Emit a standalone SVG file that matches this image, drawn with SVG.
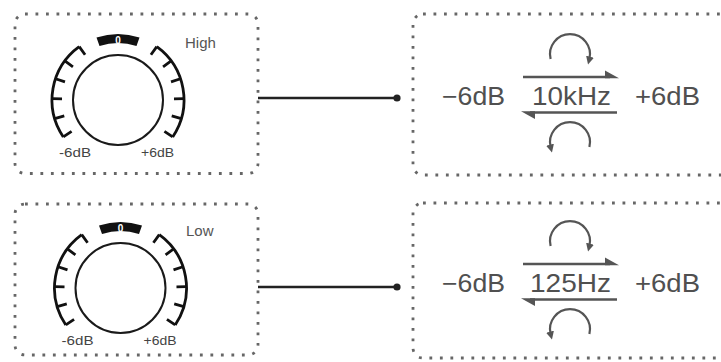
<svg xmlns="http://www.w3.org/2000/svg" xmlns:xlink="http://www.w3.org/1999/xlink" width="721" height="362" viewBox="0 0 721 362">
<style>
  .box{fill:none;stroke:#666;stroke-width:2.8;stroke-dasharray:2.8 7.7;}
  .ring{fill:none;stroke:#1a1a1a;stroke-width:2;}
  .scale{fill:none;stroke:#111;stroke-width:2.8;stroke-linecap:butt;}
  .klabel{font-family:"Liberation Sans",Arial,sans-serif;font-size:12.5px;fill:#444;}
  .name{font-family:"Liberation Sans",Arial,sans-serif;font-size:15px;fill:#555;}
  .zero{font-family:"Liberation Sans",Arial,sans-serif;font-size:10px;font-weight:bold;fill:#fff;text-anchor:middle;}
  .big{font-family:"Liberation Sans",Arial,sans-serif;font-size:25px;fill:#505050;}
  .harp{stroke:#555;stroke-width:2.5;fill:none;}
  .barb{fill:#555;}
  .loop{fill:none;stroke:#555;stroke-width:2.2;marker-end:url(#ah);}
  .wire{stroke:#222;stroke-width:2.5;fill:none;}
</style>
<defs>
  <marker id="ah" viewBox="0 0 10 10" refX="3" refY="5" markerWidth="8" markerHeight="8" markerUnits="userSpaceOnUse" orient="auto">
    <path d="M0 0 L10 5 L0 10 Z" fill="#555"/>
  </marker>
  <g id="knob">
    <circle r="45" class="ring"/>
    <path class="scale" d="M-38.79 -53.40 A66 66 0 0 0 -54.71 36.91 M38.79 -53.40 A66 66 0 0 1 54.71 36.91"/>
    <path class="scale" d="M-38.79 -53.40 L-32.92 -45.30 M-53.12 -39.16 L-45.07 -33.23 M-62.48 -21.27 L-53.01 -18.05 M-65.99 -1.38 L-55.99 -1.17 M-63.31 18.63 L-53.72 15.81 M-54.71 36.91 L-46.42 31.32 M38.79 -53.40 L32.92 -45.30 M53.12 -39.16 L45.07 -33.23 M62.48 -21.27 L53.01 -18.05 M65.99 -1.38 L55.99 -1.17 M63.31 18.63 L53.72 15.81 M54.71 36.91 L46.42 31.32"/>
    <path d="M-21.5 -62.4 A66 66 0 0 1 21.5 -62.4 L18.5 -53.9 A57 57 0 0 0 -18.5 -53.9 Z" fill="#111"/>
    <text class="zero" x="0" y="-56.5">0</text>
    <text class="klabel" x="-59" y="57" textLength="32" lengthAdjust="spacingAndGlyphs">-6dB</text>
    <text class="klabel" x="23" y="57" textLength="33" lengthAdjust="spacingAndGlyphs">+6dB</text>
  </g>
</defs>

<g id="knob-high">
  <rect class="box" x="15" y="14" width="243" height="159.5" rx="10"/>
  <use xlink:href="#knob" href="#knob" transform="translate(118,100)"/>
  <text class="name" x="185" y="48">High</text>
</g>

<g id="range-high">
  <rect class="box" x="413" y="14" width="330" height="161" rx="10"/>
  <path class="loop" d="M550.6 59 A20 20 0 1 1 589.4 59"/>
  <path class="harp" d="M523 77 H610"/>
  <polygon class="barb" points="605,70.5 619,78.25 605,78.25"/>
  <text class="big" x="442" y="105" textLength="63" lengthAdjust="spacingAndGlyphs">−6dB</text>
  <text class="big" x="532" y="105" textLength="79" lengthAdjust="spacingAndGlyphs">10kHz</text>
  <text class="big" x="635" y="105" textLength="65" lengthAdjust="spacingAndGlyphs">+6dB</text>
  <path class="harp" d="M530 112.5 H617"/>
  <polygon class="barb" points="535,119 521,111.25 535,111.25"/>
  <path class="loop" d="M589.4 147 A20 20 0 1 0 550.6 147"/>
</g>

<g id="knob-low">
  <rect class="box" x="15" y="204" width="243" height="151" rx="10"/>
  <use xlink:href="#knob" href="#knob" transform="translate(120.5,288)"/>
  <text class="name" x="186" y="236">Low</text>
</g>

<g id="range-low">
  <rect class="box" x="413" y="203" width="330" height="155" rx="10"/>
  <path class="loop" d="M550.6 246 A20 20 0 1 1 589.4 246"/>
  <path class="harp" d="M523 264 H610"/>
  <polygon class="barb" points="605,257.5 619,265.25 605,265.25"/>
  <text class="big" x="442" y="292" textLength="63" lengthAdjust="spacingAndGlyphs">−6dB</text>
  <text class="big" x="530" y="292" textLength="81" lengthAdjust="spacingAndGlyphs">125Hz</text>
  <text class="big" x="635" y="292" textLength="65" lengthAdjust="spacingAndGlyphs">+6dB</text>
  <path class="harp" d="M530 299.5 H617"/>
  <polygon class="barb" points="535,306 521,298.25 535,298.25"/>
  <path class="loop" d="M589.4 334 A20 20 0 1 0 550.6 334"/>
</g>

<g id="connectors">
  <path class="wire" d="M258 98 H397"/>
  <circle cx="397" cy="98" r="3.6" fill="#222"/>
  <path class="wire" d="M258 287 H397"/>
  <circle cx="397" cy="287" r="3.6" fill="#222"/>
</g>
</svg>
